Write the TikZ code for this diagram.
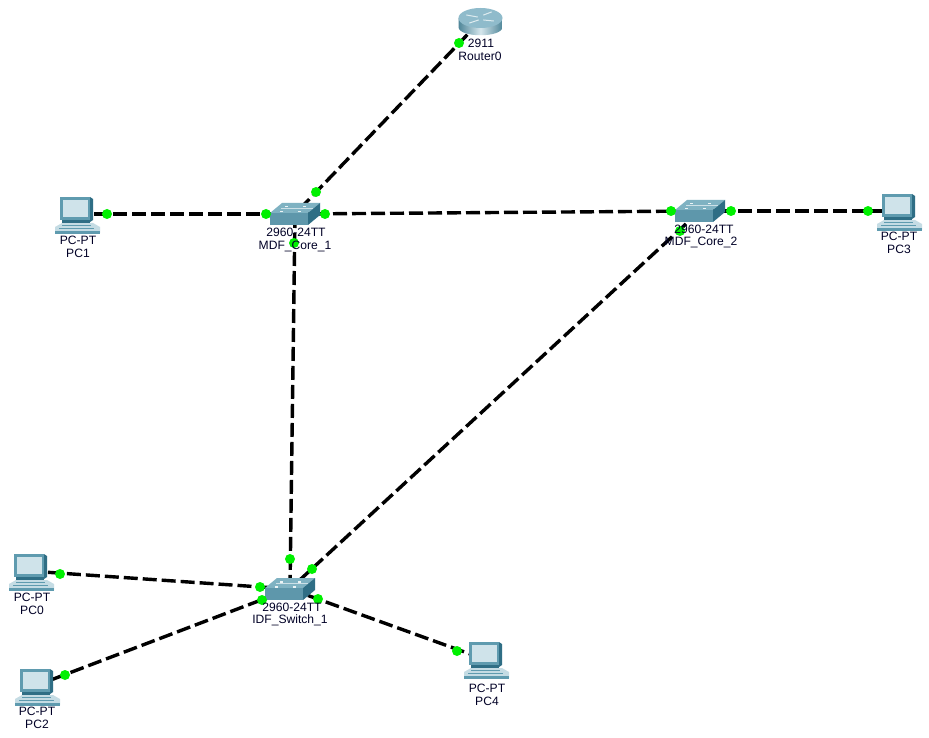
\documentclass[tikz,border=0pt]{standalone}
\usepackage{fontspec}
\setmainfont{Liberation Sans}
\definecolor{swtop}{HTML}{7FB2C2}
\definecolor{swfront}{HTML}{5E97AB}
\definecolor{swside}{HTML}{2F6E85}
\definecolor{dotgreen}{HTML}{00F000}
\definecolor{rtrtop}{HTML}{8FBBCB}
\definecolor{rtrlight}{HTML}{D5E6EC}
\definecolor{rtrdark}{HTML}{4F8699}
\definecolor{pcscreen}{HTML}{CFE3EA}
\definecolor{pcbody}{HTML}{5F9BAF}
\definecolor{pcdark}{HTML}{2F6E85}
\definecolor{pclight}{HTML}{C5DCE4}
\tikzset{
  x=1pt,y=-1pt,
  link/.style={black,line width=3.4pt,dash pattern=on 14pt off 5pt},
  portdot/.style={circle,fill=dotgreen,draw=none,minimum size=10pt,inner sep=0pt},
  devlabel/.style={font=\fontsize{12.1}{13}\selectfont,text=black!85!blue,inner sep=0pt},
  device/.style={inner sep=0pt,minimum size=0pt},
  switchicon/.pic={
    \fill[swtop] (-25,-1) -- (-13,-11) -- (25,-11) -- (13,-1) -- cycle;
    \fill[swfront] (-25,-1) rectangle (13,11);
    \fill[swside] (13,-1) -- (25,-11) -- (25,1) -- (13,11) -- cycle;
    \foreach \a/\b in {-10/-8,8/-8,-15/-3,3/-3}
      \fill[white!85!swtop] (\a,\b) rectangle ++(3,1.5);
    \draw[white!60!swtop,line width=.6pt] (-14,-6) -- (18,-6);
  },
  routericon/.pic={
    \shade[left color=rtrdark,right color=rtrdark,middle color=rtrlight]
      (-22,-3) -- (-22,6) .. controls (-22,17) and (22,17) .. (22,6) -- (22,-3) -- cycle;
    \fill[rtrtop] (0,-3) ellipse[x radius=22,y radius=10];
    \draw[white!70!rtrtop,line width=1pt,line cap=round]
      (-14,-6) -- (-3,-4) (3,-1) -- (13,0) (-11,2) -- (-2,-1) (3,-6) -- (11,-9);
  },
  pcicon/.pic={
    \fill[pclight] (-20,13) -- (-13,9) -- (18,9) -- (25,13) -- (25,19) -- (-20,19) -- cycle;
    \draw[pcbody,line width=.7pt] (-13,11) -- (16,11) (-16,14) -- (19,14);
    \fill[pcbody] (-20,17) -- (25,17) -- (25,20) -- (-20,20) -- cycle;
    \fill[pcbody] (-15,-17) rectangle (15,6);
    \fill[pcdark] (15,-17) -- (18,-15) -- (18,6) -- (15,8) -- cycle;
    \fill[pcdark] (-13,6) rectangle (15,9);
    \fill[pcscreen] (-12,-14) rectangle (13,3);
  }
}
\begin{document}
\begin{tikzpicture}
\useasboundingbox (0,0) rectangle (929,738);
\fill[white] (0,0) rectangle (929,738);
% device anchors
\node[device] (router) at (480.5,21) {};
\node[device] (core1) at (295,214) {};
\node[device] (core2) at (700,211) {};
\node[device] (idf) at (290,589) {};
\node[device] (pc1) at (75,214) {};
\node[device] (pc3) at (897,211) {};
\node[device] (pc0) at (29,571) {};
\node[device] (pc2) at (35,686) {};
\node[device] (pc4) at (484,659) {};
% connectors
\draw[link] (router.center) -- (core1.center);
\draw[link] (pc1.center) -- (core1.center);
\draw[link] (core1.center) -- (core2.center);
\draw[link] (core2.center) -- (pc3.center);
\draw[link] (core1.center) -- (idf.center);
\draw[link] (core2.center) -- (idf.center);
\draw[link] (pc0.center) -- (idf.center);
\draw[link] (pc2.center) -- (idf.center);
\draw[link] (idf.center) -- (pc4.center);
% icons
\pic at (router) {routericon};
\pic at (core1) {switchicon};
\pic at (core2) {switchicon};
\pic at (idf) {switchicon};
\pic at (pc1) {pcicon};
\pic at (pc3) {pcicon};
\pic at (pc0) {pcicon};
\pic at (pc2) {pcicon};
\pic at (pc4) {pcicon};
% port lights
\node[portdot] (d1) at (459,43) {};
\node[portdot] (d2) at (316,192) {};
\node[portdot] (d3) at (107,214) {};
\node[portdot] (d4) at (266,214) {};
\node[portdot] (d5) at (325,214) {};
\node[portdot] (d6) at (671,211) {};
\node[portdot] (d7) at (731,211) {};
\node[portdot] (d8) at (868,211) {};
\node[portdot] (d9) at (680,231) {};
\node[portdot] (d10) at (294,243) {};
\node[portdot] (d11) at (290,559) {};
\node[portdot] (d12) at (312,569) {};
\node[portdot] (d13) at (260,587) {};
\node[portdot] (d14) at (262,600) {};
\node[portdot] (d15) at (318,599) {};
\node[portdot] (d16) at (60,574) {};
\node[portdot] (d17) at (65,675) {};
\node[portdot] (d18) at (457,651) {};
% labels
\node[devlabel] (l1) at (481,43.5) {2911};
\node[devlabel] (l2) at (480,56.5) {Router0};
\node[devlabel] (l3) at (296,232.5) {2960-24TT};
\node[devlabel] (l4) at (295,246.5) {MDF\_Core\_1};
\node[devlabel] (l5) at (704,229.5) {2960-24TT};
\node[devlabel] (l6) at (701,242.5) {MDF\_Core\_2};
\node[devlabel] (l7) at (292,607.5) {2960-24TT};
\node[devlabel] (l8) at (290,620.5) {IDF\_Switch\_1};
\node[devlabel] (l9) at (78,240.5) {PC-PT};
\node[devlabel] (l10) at (78,253.5) {PC1};
\node[devlabel] (l11) at (899,236.5) {PC-PT};
\node[devlabel] (l12) at (899,249.5) {PC3};
\node[devlabel] (l13) at (32,597.5) {PC-PT};
\node[devlabel] (l14) at (32,610.5) {PC0};
\node[devlabel] (l15) at (37,711.5) {PC-PT};
\node[devlabel] (l16) at (37,724.5) {PC2};
\node[devlabel] (l17) at (487,688.5) {PC-PT};
\node[devlabel] (l18) at (487,701.5) {PC4};
\end{tikzpicture}
\end{document}
